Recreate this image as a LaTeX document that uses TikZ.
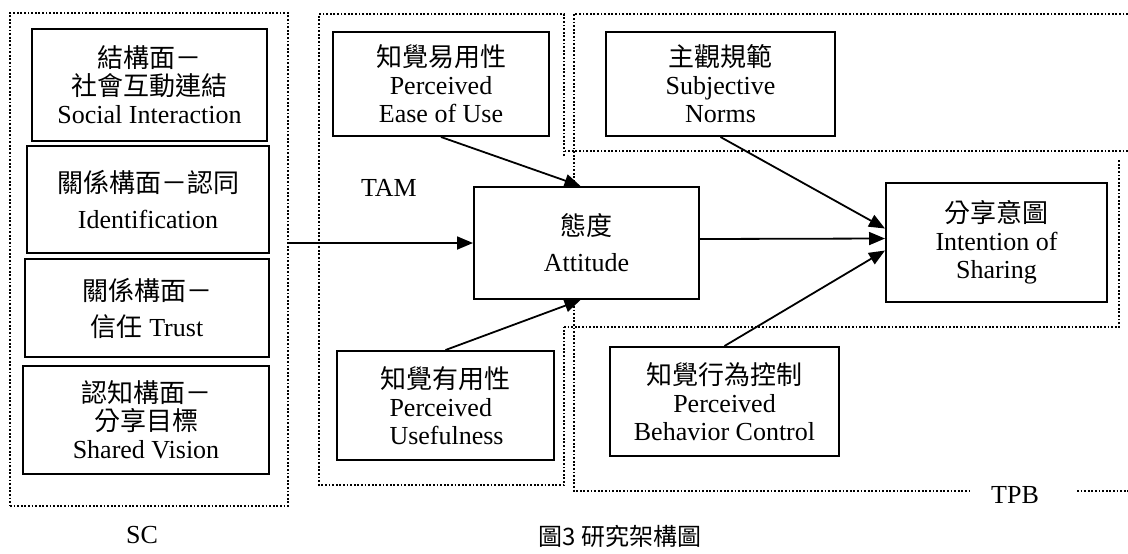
\documentclass[tikz,border=0pt]{standalone}
\usepackage{fontspec}
\setmainfont{Liberation Serif}
\newfontfamily\cjk{Noto Sans CJK TC}
\usetikzlibrary{arrows.meta}

\begin{document}
\begin{tikzpicture}
[x=0.5pt, y=-0.5pt,
% STYLES
>={Triangle[length=8pt,width=6.5pt]},
every node/.style={font=\fontsize{13}{14}\selectfont},
% The construct style is used to draw the boxes of the model
construct/.style={rectangle, draw, line width=1pt, fill=white, inner sep=0pt, align=center},
% The frame style is used to draw the dotted borders of the theories
frame/.style={line width=0.9pt, dash pattern=on 0.9pt off 0.9pt},
link/.style={->, line width=0.9pt}]

\useasboundingbox (0,0) rectangle (1128,553);

% Draw frames
\node [frame, draw, rectangle, inner sep=0pt, minimum width=139pt, minimum height=246.5pt] (sc) at (149,259.5) {};
\draw [frame] (564,156) -- (564,14) -- (319,14) -- (319,485) -- (564,485) -- (564,327);
\draw [frame] (1128,151) -- (564,151);
\draw [frame] (564,327) -- (1119,327) -- (1119,159);
\draw [frame] (1128,14) -- (574,14) -- (574,491) -- (970,491);
\draw [frame] (1077,491) -- (1128,491);

% Draw constructs
\node [construct, minimum width=117.5pt, minimum height=56pt] (social) at (149.5,85) {{\cjk 結構面－}\\{\cjk 社會互動連結}\\Social Interaction};
\node [construct, minimum width=121pt, minimum height=53.5pt] (ident) at (148,199.5) {{\cjk 關係構面－認同}\\[4pt]Identification};
\node [construct, minimum width=122pt, minimum height=49pt] (trust) at (147,308) {{\cjk 關係構面－}\\[4pt]{\cjk 信任} Trust};
\node [construct, minimum width=123pt, minimum height=54pt] (vision) at (146,420) {{\cjk 認知構面－}\\{\cjk 分享目標}\\Shared Vision};

\node [construct, minimum width=108pt, minimum height=52pt] (ease) at (441,84) {{\cjk 知覺易用性}\\Perceived\\Ease of Use};
\node [construct, align=left, minimum width=108.5pt, minimum height=54.5pt] (useful) at (445.5,405.5) {{\cjk 知覺有用性}\\\hspace*{4.5pt}Perceived\\\hspace*{4.5pt}Usefulness};
\node [construct, minimum width=112.5pt, minimum height=56pt] (attitude) at (586.5,243) {{\cjk 態度}\\[4pt]Attitude};

\node [construct, minimum width=114.5pt, minimum height=52pt] (norms) at (720.5,84) {{\cjk 主觀規範}\\Subjective\\Norms};
\node [construct, minimum width=114.5pt, minimum height=54.5pt] (control) at (724.5,401.5) {{\cjk 知覺行為控制}\\Perceived\\Behavior Control};
\node [construct, minimum width=110.5pt, minimum height=59.5pt] (intention) at (996.5,242.5) {{\cjk 分享意圖}\\Intention of\\Sharing};

% Labels
\node (tam) at (389,188) {TAM};
\node (sclabel) at (142,535) {SC};
\node (tpb) at (1015,495) {TPB};
\node (caption) at (620,536) {\cjk\fontsize{12}{14}\selectfont 圖3 研究架構圖};

% Draw links
\draw [link] (sc.east |- attitude.west) -- (attitude.west);
\draw [link] (ease.south) -- ([xshift=-3pt]attitude.north);
\draw [link] (useful.north) -- ([xshift=-3pt]attitude.south);
\draw [link] ([yshift=2pt]attitude.east) -- ([yshift=2pt]intention.west);
\draw [link] (norms.south) -- ([yshift=7pt]intention.west);
\draw [link] (control.north) -- ([yshift=-4pt]intention.west);

\end{tikzpicture}
\end{document}
